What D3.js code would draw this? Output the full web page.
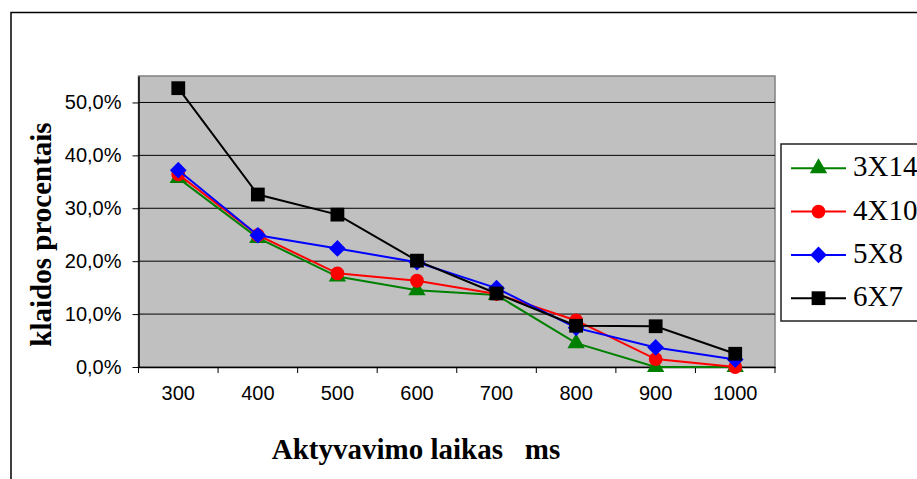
<!DOCTYPE html>
<html>
<head>
<meta charset="utf-8">
<script src="https://cdn.jsdelivr.net/npm/d3@7"></script>
<style>
    body { margin: 0; background: #fff; }
    svg { display: block; }
</style>
</head>
<body>
<div id="chart"></div>
<script>
const categories = ["300", "400", "500", "600", "700", "800", "900", "1000"]
const s3x14 = [0.357, 0.244, 0.171, 0.145, 0.136, 0.045, 0.0, 0.0]
const s4x10 = [0.364, 0.249, 0.177, 0.163, 0.138, 0.088, 0.015, 0.0]
const s5x8 = [0.372, 0.249, 0.224, 0.198, 0.149, 0.074, 0.037, 0.014]
const s6x7 = [0.527, 0.326, 0.288, 0.201, 0.139, 0.078, 0.077, 0.025]
const seriesNames = ["3X14", "4X10", "5X8", "6X7"]
const yTicks = [0, 0.1, 0.2, 0.3, 0.4, 0.5]

const series = [
    {name: seriesNames[0], values: s3x14, color: "#008000", shape: "triangle"},
    {name: seriesNames[1], values: s4x10, color: "#ff0000", shape: "circle"},
    {name: seriesNames[2], values: s5x8, color: "#0000ff", shape: "diamond"},
    {name: seriesNames[3], values: s6x7, color: "#000000", shape: "square"}
]

const width = 917, height = 479
const plot = {left: 138.5, right: 775, top: 76, bottom: 367}

const svg = d3.select("#chart").append("svg")
    .attr("width", width)
    .attr("height", height)

// outer chart frame, cut off at right and bottom like the picture
svg.append("rect")
    .attr("x", 11).attr("y", 12.5)
    .attr("width", 1000).attr("height", 1000)
    .attr("fill", "#fff")
    .attr("stroke", "#000")
    .attr("stroke-width", 1.5)

const x = d3.scaleBand()
    .domain(categories)
    .range([plot.left, plot.right])
    .padding(0)

const y = d3.scaleLinear()
    .domain([0, 0.55])
    .range([plot.bottom, plot.top])

svg.append("rect")
    .attr("x", plot.left).attr("y", plot.top)
    .attr("width", plot.right - plot.left)
    .attr("height", plot.bottom - plot.top)
    .attr("fill", "#c0c0c0")
    .attr("stroke", "#808080")
    .attr("stroke-width", 1.5)

svg.append("g")
    .selectAll("line")
    .data(yTicks.filter(d => d > 0))
    .join("line")
    .attr("x1", plot.left).attr("x2", plot.right)
    .attr("y1", d => y(d)).attr("y2", d => y(d))
    .attr("stroke", "#000")
    .attr("stroke-width", 1)

const fmt = d => d3.format(".1f")(d * 100).replace(".", ",") + "%"

const yAxis = svg.append("g")
    .attr("transform", `translate(${plot.left},0)`)
    .call(d3.axisLeft(y).tickValues(yTicks).tickFormat(fmt).tickSize(6).tickSizeOuter(0).tickPadding(11))
yAxis.select(".domain").attr("stroke", "#000").attr("stroke-width", 1.5)
yAxis.selectAll("text")
    .attr("font-family", "Arial, 'Liberation Sans', sans-serif")
    .attr("font-size", 20)
    .attr("fill", "#000")

const xAxis = svg.append("g")
    .attr("transform", `translate(0,${plot.bottom})`)
    .call(d3.axisBottom(x).tickSize(0).tickSizeOuter(0).tickPadding(19))
xAxis.select(".domain").attr("stroke", "#000").attr("stroke-width", 1.5)
xAxis.selectAll("text")
    .attr("font-family", "Arial, 'Liberation Sans', sans-serif")
    .attr("font-size", 20)
    .attr("fill", "#000")

// category ticks sit between the bands
const bounds = categories.map(c => x(c)).concat([x(categories[categories.length - 1]) + x.bandwidth()])
xAxis.selectAll("line.sep")
    .data(bounds)
    .join("line")
    .attr("class", "sep")
    .attr("x1", d => d).attr("x2", d => d)
    .attr("y1", 0).attr("y2", 6)
    .attr("stroke", "#000")
    .attr("stroke-width", 1)

function markerPath(shape) {
    if (shape === "triangle") return d3.symbol(d3.symbolTriangle, 130)()
    if (shape === "circle") return d3.symbol(d3.symbolCircle, 150)()
    if (shape === "square") return d3.symbol(d3.symbolSquare, 190)()
    return d3.symbol(d3.symbolSquare, 140)()
}

const cx = c => x(c) + x.bandwidth() / 2

const line = d3.line()
    .x((d, i) => cx(categories[i]))
    .y(d => y(d))

series.forEach(function (s) {
    const g = svg.append("g")
    g.append("path")
        .datum(s.values)
        .attr("fill", "none")
        .attr("stroke", s.color)
        .attr("stroke-width", 2)
        .attr("d", line)
    g.selectAll("path.mark")
        .data(s.values)
        .join("path")
        .attr("class", "mark")
        .attr("d", markerPath(s.shape))
        .attr("fill", s.color)
        .attr("transform", (d, i) => `translate(${cx(categories[i])},${y(d)})` + (s.shape === "diamond" ? " rotate(45)" : ""))
})

// legend
const legend = svg.append("g")
legend.append("rect")
    .attr("x", 781).attr("y", 144)
    .attr("width", 300).attr("height", 177)
    .attr("fill", "#fff")
    .attr("stroke", "#222")
    .attr("stroke-width", 1.5)

const rows = legend.selectAll("g.row")
    .data(series)
    .join("g")
    .attr("class", "row")
    .attr("transform", (d, i) => `translate(0,${168.3 + i * 43.3})`)
rows.append("line")
    .attr("x1", 791).attr("x2", 846)
    .attr("stroke", d => d.color)
    .attr("stroke-width", 2)
rows.append("path")
    .attr("d", d => markerPath(d.shape))
    .attr("fill", d => d.color)
    .attr("transform", d => "translate(818.5,0)" + (d.shape === "diamond" ? " rotate(45)" : ""))
rows.append("text")
    .attr("x", 853)
    .attr("y", 8)
    .attr("font-family", "'Times New Roman', 'Liberation Serif', serif")
    .attr("font-size", 29)
    .text(d => d.name)

svg.append("text")
    .attr("x", 416)
    .attr("y", 459)
    .attr("text-anchor", "middle")
    .attr("font-family", "'Times New Roman', 'Liberation Serif', serif")
    .attr("font-weight", "bold")
    .attr("font-size", 29)
    .style("white-space", "pre")
    .text("Aktyvavimo laikas   ms")

svg.append("text")
    .attr("transform", "translate(50.5,234.5) rotate(-90)")
    .attr("text-anchor", "middle")
    .attr("font-family", "'Times New Roman', 'Liberation Serif', serif")
    .attr("font-weight", "bold")
    .attr("font-size", 29)
    .text("klaidos procentais")
</script>
</body>
</html>
